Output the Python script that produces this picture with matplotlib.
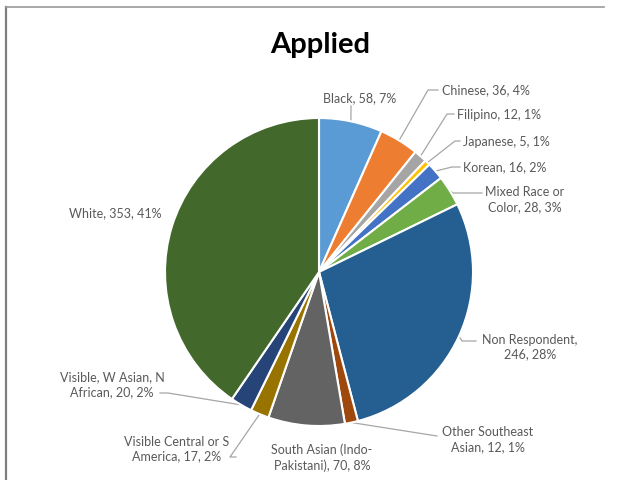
import numpy as np
import matplotlib.pyplot as plt
from matplotlib.lines import Line2D

groups = ['Black', 'Chinese', 'Filipino', 'Japanese', 'Korean', 'Mixed Race or\nColor',
          'Non Respondent,\n', 'Other Southeast\nAsian', 'South Asian (Indo-\nPakistani)',
          'Visible Central or S\nAmerica', 'Visible, W Asian, N\nAfrican', 'White']
counts = [58, 36, 12, 5, 16, 28, 246, 12, 70, 17, 20, 353]
pcts = ['7%', '4%', '1%', '1%', '2%', '3%', '28%', '1%', '8%', '2%', '2%', '41%']
colours = ['#5B9BD5', '#ED7D31', '#A5A5A5', '#FFC000', '#4472C4', '#70AD47',
           '#255E91', '#9E480E', '#636363', '#997300', '#264478', '#43682B']

# pixel layout of the labels: text anchor, alignment, leader-line points near the text
cx, cy, rad = 319, 272, 154
label_pos = [(360, 98, 'center'), (442, 90, 'left'), (457, 115, 'left'), (463, 142, 'left'),
             (463, 167, 'left'), (525, 200, 'center'), (530, 347, 'center'), (488, 440, 'center'),
             (322, 458, 'center'), (177, 449, 'center'), (112, 385, 'center'), (115, 213, 'center')]
leaders = [[(351, 106)], [(428, 90), (438, 90)], [(447, 114), (454, 114)], [(455, 141), (460, 141)],
           [(452, 167), (460, 167)], [(453, 193), (482, 193)], [(462, 341), (476, 341)],
           [(437, 436)], None, [(230, 457), (236, 457)], [(168, 393), (160, 393)], None]


def px(x, y):
    return (x - cx) / rad, (cy - y) / rad


fig = plt.figure(figsize=(6.21, 4.8), dpi=100)
ax = fig.add_axes([0, 0, 1, 1])

ax.pie(counts, colors=colours, startangle=90, counterclock=False, radius=1,
       wedgeprops=dict(edgecolor='white', linewidth=1.5))

ax.set_xlim(-cx / rad, (621 - cx) / rad)
ax.set_ylim(-(480 - cy) / rad, cy / rad)
ax.set_aspect('auto')
ax.axis('off')

fig.text(320 / 621, 1 - 45 / 480, 'Applied', ha='center', va='center',
         fontsize=21, fontweight='bold', family='Lato', color='black')

total = sum(counts)
cum = 0
for i, n in enumerate(counts):
    mid = 90 - (cum + n / 2) / total * 360
    cum += n
    tx, ty, ha = label_pos[i]
    name = groups[i]
    if name.endswith(',\n'):
        txt = name + '%d, %s' % (n, pcts[i])
    else:
        txt = '%s, %d, %s' % (name, n, pcts[i])
    ax.text(*px(tx, ty), txt, ha=ha, va='center', fontsize=9, family='Lato',
            color='#595959', linespacing=1.3)
    if leaders[i] is not None:
        ex, ey = np.cos(np.radians(mid)), np.sin(np.radians(mid))
        pts = [(ex, ey)] + [px(a, b) for a, b in leaders[i]]
        xs, ys = zip(*pts)
        ax.plot(xs, ys, color='#A6A6A6', lw=0.9, zorder=0)

# screenshot frame
fig.add_artist(Line2D([6 / 621, 6 / 621], [0, 1 - 7 / 480], color='#7F7F7F', lw=1.6))
fig.add_artist(Line2D([6 / 621, 604 / 621], [1 - 7 / 480, 1 - 7 / 480], color='#9A9A9A', lw=1.2))

fig.savefig('out.png', dpi=100)
